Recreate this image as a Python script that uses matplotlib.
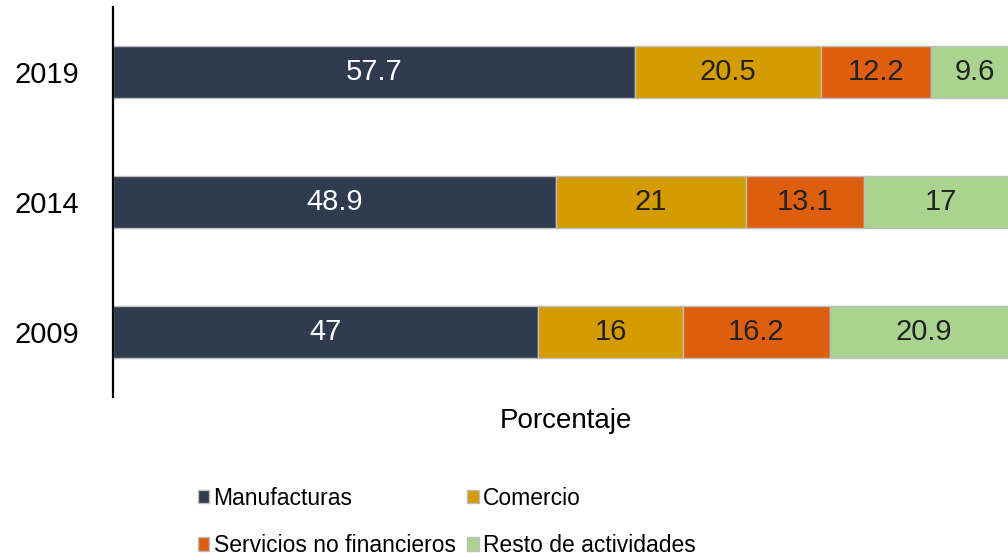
import matplotlib
matplotlib.use("Agg")
import matplotlib.pyplot as plt

years = ["2009", "2014", "2019"]
sectors = ["Manufacturas", "Comercio", "Servicios no financieros", "Resto de actividades"]
manufacturas = [47, 48.9, 57.7]
comercio = [16, 21, 20.5]
servicios = [16.2, 13.1, 12.2]
resto = [20.9, 17, 9.6]
labels_2009 = ["47", "16", "16.2", "20.9"]
labels_2014 = ["48.9", "21", "13.1", "17"]
labels_2019 = ["57.7", "20.5", "12.2", "9.6"]

colors = ["#2F3B4E", "#D49C00", "#DE5E10", "#A9D38F"]
text_colors = ["white", "#222222", "#222222", "#222222"]

plt.rcParams["font.family"] = ["Liberation Sans", "DejaVu Sans"]

fig = plt.figure(figsize=(10.08, 5.56), dpi=100)
ax = fig.add_axes([0.112, 0.286, 0.898, 0.701])

series = [manufacturas, comercio, servicios, resto]
bar_labels = list(zip(labels_2009, labels_2014, labels_2019))
left = [0.0, 0.0, 0.0]
for i, vals in enumerate(series):
    bars = ax.barh(years, vals, left=left, height=0.4, color=colors[i],
                   edgecolor="#BDBDBD", linewidth=1, label=sectors[i])
    ax.bar_label(bars, labels=list(bar_labels[i]), label_type="center",
                 color=text_colors[i], fontsize=21)
    left = [l + v for l, v in zip(left, vals)]

ax.set_xlim(0, 100)
ax.set_ylim(-0.5, 2.5)
ax.set_xticks([])
ax.tick_params(axis="y", length=0, pad=24, labelsize=21)
for side in ["top", "right", "bottom"]:
    ax.spines[side].set_visible(False)
ax.spines["left"].set_linewidth(1.6)
ax.set_xlabel("Porcentaje", fontsize=20, labelpad=8)

# legend filled row by row like the original
handles, labs = ax.get_legend_handles_labels()
order = [0, 2, 1, 3]
fig.legend([handles[k] for k in order], [labs[k] for k in order],
           loc="upper left", bbox_to_anchor=(0.196, 0.124), ncol=2,
           frameon=False, fontsize=16.5, handlelength=0.5, handleheight=0.5,
           handletextpad=0.2, columnspacing=0.5, labelspacing=1.05,
           borderpad=0, borderaxespad=0)

fig.savefig("out.png", dpi=100)
